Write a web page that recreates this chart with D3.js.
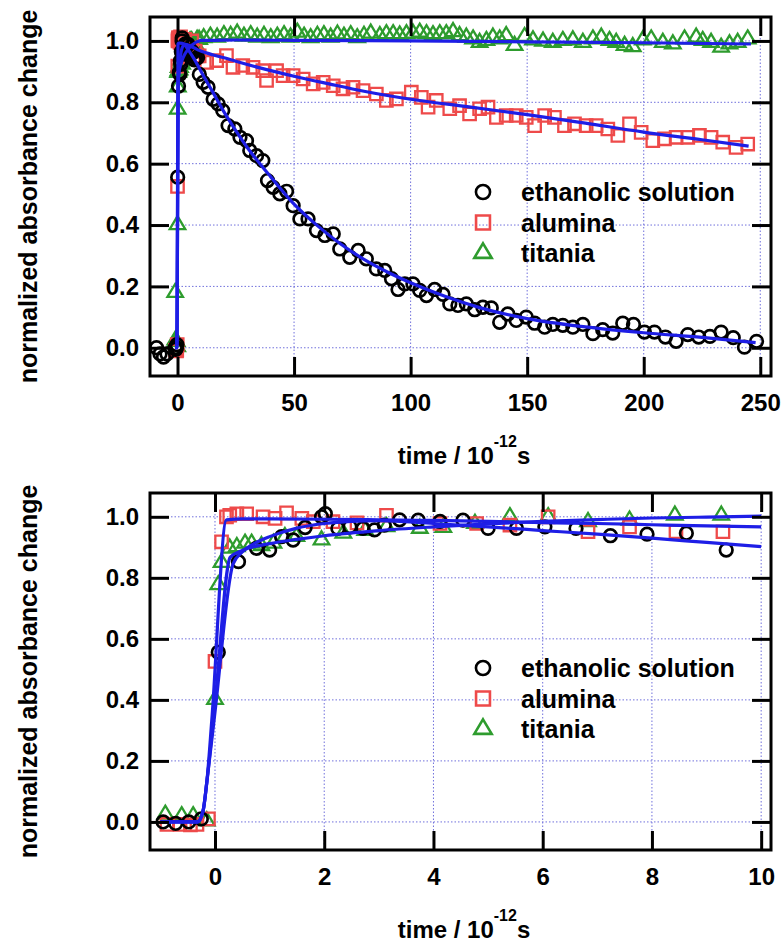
<!DOCTYPE html>
<html>
<head>
<meta charset="utf-8">
<script src="https://cdn.jsdelivr.net/npm/d3@7"></script>
<style>
  body { margin: 0; background: #fff; }
  svg { display: block; }
  text { font-family: "Liberation Sans", Arial, Helvetica, sans-serif; font-weight: bold; fill: #000; }
</style>
</head>
<body>
<script>
const width = 784;
const height = 943;

// ticks / labels
const yTicks = [0, 0.2, 0.4, 0.6, 0.8, 1.0];
const topXTicks = [0, 50, 100, 150, 200, 250];
const bottomXTicks = [0, 2, 4, 6, 8, 10];
const legendLabels = ["ethanolic solution", "alumina", "titania"];
const yTitle = "normalized absorbance change";

// measured points, -1 .. 10 ps (both panels) [time ps, normalized change]
const ethanolEarly = [[-0.95,0.0],[-0.72,-0.005],[-0.48,0.0],[-0.25,0.01],[0.06,0.556],[0.43,0.853],[0.76,0.897],
  [1.0,0.891],[1.22,0.935],[1.43,0.924],[1.65,0.965],[1.95,1.0],[2.02,1.01],[2.25,0.962],[2.47,0.967],[2.71,0.962],
  [2.92,0.957],[3.1,0.973],[3.38,0.99],[3.72,0.989],[4.12,0.985],[4.54,0.989],[5.0,0.962],[5.52,0.962],[6.04,0.967],
  [6.61,0.962],[7.24,0.938],[7.91,0.943],[8.63,0.946],[9.36,0.891]];
const aluminaEarly = [[-0.88,-0.008],[-0.64,-0.008],[-0.45,-0.01],[-0.33,-0.008],[-0.12,0.01],[0.0,0.526],[0.12,0.918],
  [0.21,1.0],[0.27,1.005],[0.4,1.01],[0.58,1.01],[0.88,1.0],[1.1,0.995],[1.31,1.013],[1.59,0.995],[1.8,0.984],
  [2.16,0.984],[2.6,0.98],[3.14,1.005],[4.12,0.978],[4.79,0.978],[5.4,0.973],[6.1,1.0],[6.83,0.951],[7.59,0.967],
  [8.44,0.951],[9.3,0.951]];
const titaniaEarly = [[-0.91,0.025],[-0.61,0.02],[-0.4,0.02],[-0.15,0.003],[0.0,0.401],[0.06,0.777],[0.12,0.85],
  [0.27,0.897],[0.4,0.902],[0.55,0.913],[0.67,0.913],[0.85,0.905],[1.07,0.913],[1.28,0.935],[1.49,0.935],[1.95,0.924],
  [2.35,0.946],[2.75,0.955],[3.14,0.967],[3.75,0.962],[4.18,0.965],[4.76,0.978],[5.4,1.0],[6.1,1.0],[6.83,0.984],
  [7.59,0.989],[8.42,1.005],[9.27,1.005]];

// extra points only visible in the 0 .. 250 ps panel
const ethanolLate = [[-9,0.0],[-7.5,-0.02],[-6,-0.03],[-4.5,-0.02],
  [11,0.865],[13.1,0.849],[15.3,0.81],[17.4,0.795],[19.4,0.773],[21.7,0.724],[24.6,0.713],[26.8,0.686],[29.6,0.675],
  [31,0.643],[33.9,0.626],[36.6,0.61],[38.6,0.545],[41,0.523],[43.9,0.502],[46.8,0.51],[49.6,0.463],[52.5,0.42],
  [56,0.42],[59.6,0.382],[63.2,0.366],[66.8,0.371],[69.6,0.322],[73.9,0.295],[77.5,0.317],[81,0.29],[85.3,0.257],
  [88.9,0.252],[91.8,0.225],[94.6,0.19],[97.5,0.208],[101,0.208],[103.9,0.187],[106.8,0.17],[110.3,0.19],
  [113.9,0.174],[116.8,0.143],[120.3,0.138],[123.9,0.143],[127.5,0.124],[131,0.132],[134.6,0.13],[138.2,0.083],
  [141.7,0.11],[145.3,0.089],[149.6,0.1],[153.2,0.08],[157.5,0.067],[161,0.076],[165.3,0.073],[169.6,0.067],
  [173.9,0.076],[178.2,0.046],[182.4,0.059],[186.7,0.048],[191,0.08],[195.6,0.076],[200.3,0.051],[204.6,0.051],
  [209.3,0.035],[213.9,0.021],[218.9,0.043],[223.6,0.035],[228.4,0.037],[233.2,0.051],[238.4,0.033],[243.2,0.002],
  [248.4,0.021]];
const aluminaLate = [[12.5,0.93],[16.8,0.936],[21,0.952],[23.8,0.914],[28,0.92],[32.4,0.914],[36.6,0.903],[38.2,0.871],
  [42.5,0.903],[45.3,0.887],[49.6,0.887],[53.9,0.876],[58.2,0.86],[62.5,0.865],[66.8,0.854],[71,0.844],[75.3,0.849],
  [79.6,0.838],[85.3,0.827],[89.6,0.806],[93.9,0.811],[100.3,0.833],[104.6,0.816],[107.5,0.784],[111,0.806],
  [116.8,0.779],[121,0.789],[125.3,0.762],[129.6,0.779],[133.2,0.784],[136.8,0.751],[141,0.757],[145.3,0.757],
  [149.6,0.751],[153.2,0.724],[157.5,0.757],[161.7,0.751],[166,0.724],[170.3,0.73],[175.3,0.724],[179.6,0.724],
  [184.6,0.713],[188.9,0.692],[193.9,0.73],[198.9,0.702],[203.9,0.675],[208.9,0.681],[213.9,0.686],[218.9,0.686],
  [223.9,0.692],[228.9,0.686],[233.9,0.67],[239.6,0.653],[244.6,0.664]];
const titaniaLate = [[-1,0.18],
  [11.2,1.01],[14.1,1.015],[17,1.012],[19.9,1.02],[22.8,1.018],[25.6,1.025],[28.5,1.015],[31.4,1.02],[34.2,1.012],
  [37.1,1.018],[40,1.01],[42.8,1.015],[45.7,1.02],[48.5,1.012],[51.4,1.028],[54.3,1.015],[57.1,1.01],[60,1.018],
  [62.8,1.02],[65.7,1.012],[68.6,1.022],[71.4,1.015],[74.3,1.02],[77.1,1.01],[80,1.018],[82.9,1.025],[86.8,1.017],
  [89.6,1.023],[92.5,1.023],[95.3,1.019],[98.2,1.023],[101,1.025],[103.9,1.028],[106.8,1.023],[109.6,1.02],
  [112.5,1.023],[115.3,1.023],[118.2,1.03],[121,1.017],[123.9,1.012],[126.8,1.006],[129.6,0.995],[132.5,1.001],
  [135.3,1.012],[138.2,1.006],[141,1.017],[144.6,0.985],[148.9,1.014],[152.5,1.003],[156.8,0.999],[161,0.995],
  [165.3,1.001],[169.6,1.003],[173.9,0.995],[178.2,1.006],[181.8,1.012],[185.3,1.001],[188.2,0.995],[191.8,0.985],
  [195.3,0.981],[199.6,1.003],[203.2,1.006],[208.2,0.995],[212.5,0.99],[217.5,1.006],[222.5,1.012],[225.3,1.001],
  [228.9,0.995],[233.2,0.979],[236.8,0.99],[240.3,0.995],[244.6,1.006]];

// fitted curves
const ethanolFitEarly = [[-1,0],[-0.32,0],[-0.22,0.035],[-0.15,0.13],[0,0.36],[0.33,0.845],[0.5,0.885],[0.75,0.915],
  [1,0.935],[1.5,0.963],[2,0.978],[2.5,0.985],[3,0.987],[4,0.978],[5,0.967],[6,0.955],[7,0.943],[8,0.93],[9,0.916],[10,0.902]];
const aluminaFitEarly = [[-1,0],[-0.32,0],[-0.22,0.035],[-0.15,0.13],[-0.06,0.33],[0.21,0.99],[0.5,0.993],[1,0.993],
  [2,0.992],[3,0.99],[4,0.988],[5,0.985],[6,0.981],[7,0.978],[8,0.974],[9,0.97],[10,0.967]];
const titaniaFitEarly = [[-1,0],[-0.32,0],[-0.22,0.035],[-0.15,0.13],[0,0.39],[0.28,0.868],[0.5,0.89],[1,0.912],
  [1.5,0.926],[2,0.938],[3,0.955],[4,0.967],[5,0.977],[6,0.985],[7,0.991],[8,0.996],[9,0.999],[10,1.002]];
const ethanolFitLate = [[15,0.835],[20,0.768],[25,0.708],[30,0.652],[35,0.603],[40,0.557],[50,0.468],[60,0.398],
  [70,0.338],[80,0.288],[90,0.247],[100,0.212],[115,0.167],[130,0.13],[150,0.095],[175,0.068],[200,0.049],
  [225,0.034],[248,0.017]];
const aluminaFitLate = [[15,0.955],[20,0.945],[25,0.934],[35,0.913],[50,0.885],[65,0.86],[80,0.836],[100,0.81],
  [125,0.785],[150,0.76],[175,0.732],[200,0.703],[225,0.678],[245,0.657]];
const titaniaFitLate = [[15,1.002],[25,1.003],[50,1.002],[100,1.0],[150,0.997],[200,0.994],[246,0.99]];

const colors = { ethanol: "#000000", alumina: "#ee4a4a", titania: "#2e9c2e", fit: "#1e1ee6", grid: "#7070dc" };

const svg = d3.select("body").append("svg")
  .attr("width", width)
  .attr("height", height)
  .attr("viewBox", [0, 0, width, height]);

function markerPath(kind, s) {
  if (kind == "circle") {
    const r = 6.3 * s;
    return `M${r},0A${r},${r} 0 1,1 ${-r},0A${r},${r} 0 1,1 ${r},0Z`;
  }
  if (kind == "square") {
    const a = 6.2 * s;
    return `M${-a},${-a}h${2 * a}v${2 * a}h${-2 * a}Z`;
  }
  const w = 15.5 * s, h = 13 * s;
  return `M0,${-h * 2 / 3}L${w / 2},${h / 3}L${-w / 2},${h / 3}Z`;
}

function drawPanel(cfg) {
  const g = svg.append("g");
  const x = d3.scaleLinear().domain(cfg.xDomain).range([cfg.left, cfg.right]);
  const y = d3.scaleLinear().domain([-0.092, 1.078]).range([cfg.bottom, cfg.top]);

  g.append("clipPath").attr("id", cfg.id)
    .append("rect")
      .attr("x", cfg.left).attr("y", cfg.top)
      .attr("width", cfg.right - cfg.left).attr("height", cfg.bottom - cfg.top);

  // dotted grid
  const grid = g.append("g")
    .attr("stroke", colors.grid)
    .attr("stroke-width", 1)
    .attr("stroke-dasharray", "1.5,2");
  grid.selectAll(".gx").data(cfg.xTicks).join("line")
    .attr("x1", d => x(d)).attr("x2", d => x(d))
    .attr("y1", cfg.top).attr("y2", cfg.bottom);
  grid.selectAll(".gy").data(yTicks).join("line")
    .attr("class", "gy")
    .attr("x1", cfg.left).attr("x2", cfg.right)
    .attr("y1", d => y(d)).attr("y2", d => y(d));

  const plot = g.append("g").attr("clip-path", `url(#${cfg.id})`);

  cfg.series.forEach(s => {
    plot.append("g")
      .attr("fill", "none")
      .attr("stroke", s.color)
      .attr("stroke-width", s.kind == "circle" ? 2.7 : 2.3)
      .selectAll("path")
      .data(s.points)
      .join("path")
        .attr("d", markerPath(s.kind, 1))
        .attr("transform", d => `translate(${x(d[0])},${y(d[1])})`);
  });

  const line = d3.line()
    .x(d => x(d[0]))
    .y(d => y(d[1]))
    .curve(d3.curveMonotoneX);
  plot.append("g")
    .attr("fill", "none")
    .attr("stroke", colors.fit)
    .attr("stroke-width", 3.2)
    .attr("stroke-linejoin", "round")
    .selectAll("path")
    .data(cfg.fits)
    .join("path")
      .attr("d", line);

  // frame + inward ticks on all four sides
  g.append("rect")
    .attr("x", cfg.left).attr("y", cfg.top)
    .attr("width", cfg.right - cfg.left).attr("height", cfg.bottom - cfg.top)
    .attr("fill", "none").attr("stroke", "#000").attr("stroke-width", 3);

  const fmtY = d3.format(".1f");
  const axes = [
    [d3.axisLeft(y).tickValues(yTicks).tickFormat(fmtY).tickPadding(11), `translate(${cfg.left},0)`],
    [d3.axisRight(y).tickValues(yTicks).tickFormat(""), `translate(${cfg.right},0)`],
    [d3.axisBottom(x).tickValues(cfg.xTicks).tickFormat(d3.format("d")).tickPadding(18), `translate(0,${cfg.bottom})`],
    [d3.axisTop(x).tickValues(cfg.xTicks).tickFormat(""), `translate(0,${cfg.top})`]
  ];
  axes.forEach(([ax, tr]) => {
    const a = g.append("g")
      .attr("transform", tr)
      .call(ax.tickSizeInner(-19).tickSizeOuter(0));
    a.select(".domain").remove();
    a.selectAll(".tick line").attr("stroke", "#000").attr("stroke-width", 3);
    a.selectAll(".tick text")
      .attr("font-family", null)
      .style("font-size", "24px");
  });

  // legend
  const kinds = ["circle", "square", "triangle"];
  const lcol = [colors.ethanol, colors.alumina, colors.titania];
  const leg = g.append("g");
  legendLabels.forEach((lab, i) => {
    const ly = cfg.top + 175 + i * 30.5;
    leg.append("path")
      .attr("d", markerPath(kinds[i], 1.12))
      .attr("transform", `translate(483,${ly})`)
      .attr("fill", "none")
      .attr("stroke", lcol[i])
      .attr("stroke-width", 2.6);
    leg.append("text")
      .attr("x", 521).attr("y", ly + 9)
      .style("font-size", "25px")
      .text(lab);
  });

  // axis titles
  const xt = g.append("text")
    .attr("x", 464).attr("y", cfg.bottom + 88)
    .attr("text-anchor", "middle")
    .style("font-size", "24px");
  xt.append("tspan").text("time / 10");
  xt.append("tspan").attr("dy", -17).style("font-size", "16px").text("-12");
  xt.append("tspan").attr("dy", 17).text("s");

  g.append("text")
    .attr("transform", `translate(37,${(cfg.top + cfg.bottom) / 2}) rotate(-90)`)
    .attr("text-anchor", "middle")
    .style("font-size", "25px")
    .text(yTitle);
}

drawPanel({
  id: "clipTop", left: 150, right: 771, top: 17, bottom: 376,
  xDomain: [-11.8, 254.6], xTicks: topXTicks,
  series: [
    { kind: "triangle", color: colors.titania, points: titaniaEarly.concat(titaniaLate) },
    { kind: "square", color: colors.alumina, points: aluminaEarly.concat(aluminaLate) },
    { kind: "circle", color: colors.ethanol, points: ethanolEarly.concat(ethanolLate) }
  ],
  fits: [ethanolFitEarly.concat(ethanolFitLate), aluminaFitEarly.concat(aluminaFitLate), titaniaFitEarly.concat(titaniaFitLate)]
});

drawPanel({
  id: "clipBottom", left: 150, right: 771, top: 493, bottom: 850,
  xDomain: [-1.19, 10.18], xTicks: bottomXTicks,
  series: [
    { kind: "triangle", color: colors.titania, points: titaniaEarly },
    { kind: "square", color: colors.alumina, points: aluminaEarly },
    { kind: "circle", color: colors.ethanol, points: ethanolEarly }
  ],
  fits: [ethanolFitEarly, aluminaFitEarly, titaniaFitEarly]
});
</script>
</body>
</html>
